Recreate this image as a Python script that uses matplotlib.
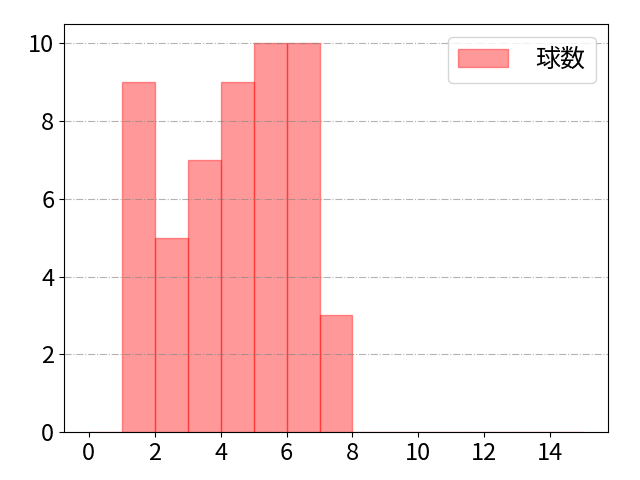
import numpy as np
from matplotlib import pyplot as plt

plt.rcParams['font.family'] = ['Noto Sans CJK JP', 'DejaVu Sans']
plt.rcParams['font.size'] = 17

bins = np.arange(0, 16)
counts = [0, 9, 5, 7, 9, 10, 10, 3, 0, 0, 0, 0, 0, 0, 0]
label = '球数'

fig, ax = plt.subplots(figsize=(6.4, 4.8), dpi=100)
ax.bar(bins[:-1], counts, width=1, align='edge', color='red', alpha=0.4,
       edgecolor='red', label=label)
ax.grid(axis='y', color='gray', linestyle='-.', alpha=0.6)
ax.set_xticks([0, 2, 4, 6, 8, 10, 12, 14])
ax.legend(loc='upper right', fontsize=18, handletextpad=1.1)
fig.subplots_adjust(left=0.1, right=0.95, bottom=0.1, top=0.95)
fig.savefig('out.png')
